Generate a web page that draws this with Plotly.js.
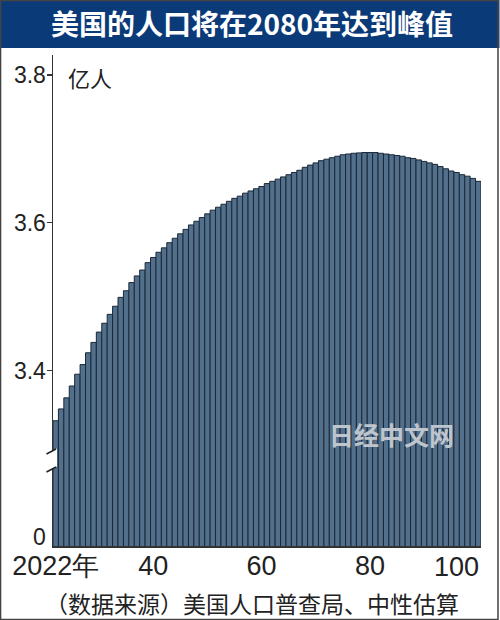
<!DOCTYPE html>
<html>
<head>
<meta charset="utf-8">
<script src="https://cdn.plot.ly/plotly-3.0.1.min.js"></script>
<style>html,body{margin:0;padding:0;background:#fff;}#chart{width:500px;height:620px;}</style>
</head>
<body>
<div id="chart"></div>
<script>
// ---- data (亿人), US population projection, middle series ----
const years = [2022,2023,2024,2025,2026,2027,2028,2029,2030,2031,2032,2033,2034,2035,2036,2037,2038,2039,2040,2041,2042,2043,2044,2045,2046,2047,2048,2049,2050,2051,2052,2053,2054,2055,2056,2057,2058,2059,2060,2061,2062,2063,2064,2065,2066,2067,2068,2069,2070,2071,2072,2073,2074,2075,2076,2077,2078,2079,2080,2081,2082,2083,2084,2085,2086,2087,2088,2089,2090,2091,2092,2093,2094,2095,2096,2097,2098,2099,2100];
const population = [3.332,3.348,3.363,3.379,3.395,3.408,3.424,3.438,3.452,3.464,3.476,3.487,3.499,3.508,3.519,3.528,3.536,3.546,3.553,3.560,3.566,3.573,3.579,3.585,3.591,3.597,3.602,3.607,3.612,3.617,3.621,3.625,3.629,3.633,3.636,3.640,3.643,3.646,3.649,3.653,3.656,3.659,3.662,3.665,3.668,3.671,3.675,3.678,3.681,3.684,3.686,3.688,3.690,3.692,3.693,3.694,3.6945,3.695,3.695,3.695,3.694,3.693,3.692,3.691,3.690,3.688,3.687,3.685,3.683,3.681,3.679,3.676,3.673,3.670,3.668,3.665,3.663,3.660,3.656];
const xTickVals = [2022, 2040, 2060, 2080];
const xTickText = ['2022年', '40', '60', '80'];
const lastTickText = '100';
const yTickVals = [3.4, 3.6, 3.8];
const yTickText = ['3.4', '3.6', '3.8'];
const zeroText = '0';
const titleText = '美国的人口将在2080年达到峰值';
const unitText = '亿人';
const sourceText = '（数据来源）美国人口普查局、中性估算';
const watermark = '日经中文网';

// ---- layout geometry (pixels) ----
const W = 500, H = 620, L = 53, R = 481.5, T = 55, B = 546;
const px = x => (x - L) / (R - L);
const py = y => (B - y) / (B - T);
const yBottom = 3.1625, yTop = 3.827;

const cjk = '"Noto Sans CJK SC", "Noto Sans", sans-serif';
const num = '"Liberation Sans Narrow", "Liberation Sans", Arial, sans-serif';

const trace = {
  type: 'bar', x: years, y: population,
  marker: { color: '#52708c', line: { color: '#1a2838', width: 1 } },
  hoverinfo: 'x+y'
};

const layout = {
  width: W, height: H,
  margin: { l: L, r: W - R, t: T, b: H - B, pad: 0 },
  paper_bgcolor: '#ffffff', plot_bgcolor: '#ffffff',
  showlegend: false, bargap: 0,
  title: { text: titleText, x: 252 / W, xanchor: 'center', y: 1 - 25 / H, yanchor: 'middle', yref: 'container', xref: 'container',
           font: { family: cjk, size: 28, color: '#ffffff', weight: 700 } },
  xaxis: {
    range: [2021.5, 2100.5], tickmode: 'array', tickvals: xTickVals, ticktext: xTickText,
    showgrid: false, zeroline: false, showline: true, linecolor: '#333', linewidth: 1.5,
    ticks: '', ticklabelstandoff: -5,
    tickfont: { family: num, size: 27, color: '#222' }, fixedrange: true
  },
  yaxis: {
    range: [yBottom, yTop], tickmode: 'array', tickvals: yTickVals, ticktext: yTickText,
    showgrid: false, zeroline: false, showline: true, linecolor: '#333', linewidth: 1.5,
    ticks: 'outside', ticklen: 5, tickcolor: '#333', tickwidth: 1.2, ticklabelstandoff: -4,
    tickfont: { family: num, size: 23, color: '#222' }, fixedrange: true
  },
  shapes: [
    // title bar
    { type: 'rect', xref: 'paper', yref: 'paper', x0: px(0), x1: px(W), y0: py(48), y1: py(0),
      fillcolor: '#0b3a78', line: { width: 0 }, layer: 'above' },
    // outer frame
    { type: 'rect', xref: 'paper', yref: 'paper', x0: px(0.5), x1: px(498.5), y0: py(619.5), y1: py(0.5),
      fillcolor: 'rgba(0,0,0,0)', line: { color: '#444', width: 1.5 }, layer: 'above' },
    // axis break (white gap)
    { type: 'path', xref: 'paper', yref: 'paper', layer: 'above',
      path: `M ${px(45)} ${py(454.5)} L ${px(57)} ${py(448.5)} L ${px(57)} ${py(466.5)} L ${px(45)} ${py(472.5)} Z`,
      fillcolor: '#ffffff', line: { width: 0 } },
    { type: 'line', xref: 'paper', yref: 'paper', layer: 'above',
      x0: px(46.5), y0: py(454), x1: px(56), y1: py(449), line: { color: '#222', width: 1.5 } },
    { type: 'line', xref: 'paper', yref: 'paper', layer: 'above',
      x0: px(46.5), y0: py(472), x1: px(56), y1: py(467), line: { color: '#222', width: 1.5 } }
  ],
  annotations: [
    { text: unitText, xref: 'paper', yref: 'paper', x: px(66), y: py(77), xanchor: 'left', yanchor: 'middle',
      showarrow: false, font: { family: cjk, size: 22, color: '#222' } },
    { text: zeroText, xref: 'paper', yref: 'paper', x: px(48), y: py(537), xanchor: 'right', yanchor: 'middle',
      showarrow: false, font: { family: num, size: 23, color: '#222' } },
    { text: lastTickText, xref: 'x', yref: 'paper', x: 2100.5, y: py(567), xanchor: 'right', yanchor: 'middle',
      showarrow: false, font: { family: num, size: 27, color: '#222' } },
    { text: watermark, xref: 'paper', yref: 'paper', x: px(392), y: py(434), xanchor: 'center', yanchor: 'middle',
      showarrow: false, font: { family: cjk, size: 25, color: '#bfc5cc', weight: 700 } },
    { text: sourceText, xref: 'paper', yref: 'paper', x: px(252), y: py(603), xanchor: 'center', yanchor: 'middle',
      showarrow: false, font: { family: cjk, size: 23, color: '#222' } }
  ]
};

Plotly.newPlot('chart', [trace], layout, { displayModeBar: false, staticPlot: true });
</script>
</body>
</html>
